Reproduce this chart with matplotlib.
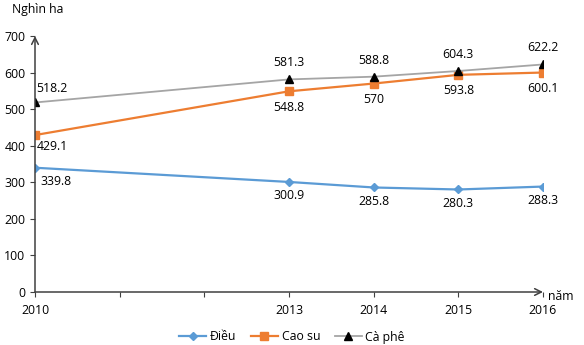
import matplotlib.pyplot as plt

plt.rcParams['font.family'] = ['Open Sans', 'DejaVu Sans']

years = [2010, 2013, 2014, 2015, 2016]
dieu = [339.8, 300.9, 285.8, 280.3, 288.3]
cao_su = [429.1, 548.8, 570, 593.8, 600.1]
ca_phe = [518.2, 581.3, 588.8, 604.3, 622.2]
series_names = ['Điều', 'Cao su', 'Cà phê']
y_ticks = [0, 100, 200, 300, 400, 500, 600, 700]

fig = plt.figure(figsize=(5.84, 3.45), dpi=100)
ax = fig.add_axes([35 / 584, 53 / 345, 508 / 584, 256 / 345])

ax.plot(years, dieu, color='#5B9BD5', lw=1.6, marker='D', ms=4.5, label=series_names[0])
ax.plot(years, cao_su, color='#ED7D31', lw=1.6, marker='s', ms=6, label=series_names[1])
ax.plot(years, ca_phe, color='#A5A5A5', lw=1.3, marker='^', ms=5.5,
        mfc='black', mec='black', label=series_names[2])

fs = 8.8
# data labels
for i, (x, v) in enumerate(zip(years, dieu)):
    if i == 0:
        ax.annotate(f'{v:g}', (x, v), xytext=(4, -10), textcoords='offset points',
                    ha='left', va='center', fontsize=fs)
    else:
        ax.annotate(f'{v:g}', (x, v), xytext=(0, -10), textcoords='offset points',
                    ha='center', va='center', fontsize=fs)
for i, (x, v) in enumerate(zip(years, cao_su)):
    if i == 0:
        ax.annotate(f'{v:g}', (x, v), xytext=(1, -8), textcoords='offset points',
                    ha='left', va='center', fontsize=fs)
    else:
        ax.annotate(f'{v:g}', (x, v), xytext=(0, -11.5), textcoords='offset points',
                    ha='center', va='center', fontsize=fs)
for i, (x, v) in enumerate(zip(years, ca_phe)):
    if i == 0:
        ax.annotate(f'{v:g}', (x, v), xytext=(1, 10), textcoords='offset points',
                    ha='left', va='center', fontsize=fs)
    else:
        ax.annotate(f'{v:g}', (x, v), xytext=(0, 12), textcoords='offset points',
                    ha='center', va='center', fontsize=fs)

ax.set_xlim(2010, 2016)
ax.set_ylim(0, 700)
ax.set_yticks(y_ticks)
ax.set_xticks(range(2010, 2017))
ax.set_xticklabels([str(y) if y in years else '' for y in range(2010, 2017)])
ax.tick_params(axis='both', labelsize=fs, length=3.5, color='#404040', width=0.8)
ax.tick_params(axis='x', pad=5)
for s in ax.spines.values():
    s.set_visible(False)

# axis lines with open arrow heads
arrow = dict(arrowstyle='->', color='#404040', lw=1.1, shrinkA=0, shrinkB=0,
             mutation_scale=12)
ax.annotate('', xy=(1.0, 0), xytext=(0, 0), xycoords='axes fraction', arrowprops=arrow)
ax.annotate('', xy=(0, 1.0), xytext=(0, 0), xycoords='axes fraction', arrowprops=arrow)

fig.text(12 / 584, 1 - 10 / 345, 'Nghìn ha', fontsize=fs, ha='left', va='center')
fig.text(548 / 584, 1 - 297 / 345, 'năm', fontsize=fs, ha='left', va='center')

fig.legend(loc='center', bbox_to_anchor=(0.5, 1 - 337 / 345), ncol=3, frameon=False,
           fontsize=fs, handlelength=2.2, columnspacing=1.2, handletextpad=0.3)

fig.savefig('out.png', dpi=100)
